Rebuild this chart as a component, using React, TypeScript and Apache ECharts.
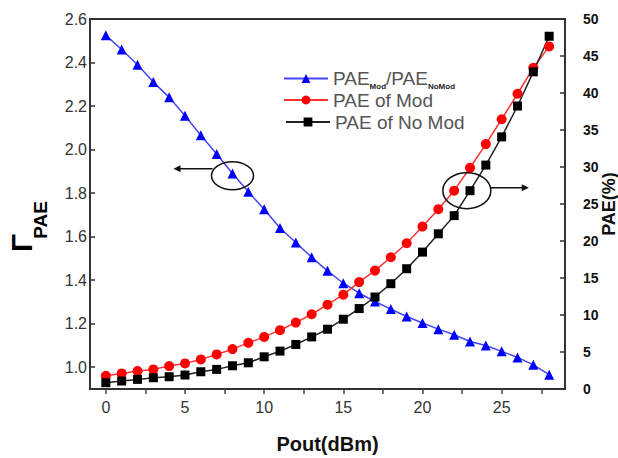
import React, { useEffect, useRef } from "react";
import * as echarts from "echarts";

const pout = [0, 1, 2, 3, 4, 5, 6, 7, 8, 9, 10, 11, 12, 13, 14, 15, 16, 17, 18, 19, 20, 21, 22, 23, 24, 25, 26, 27, 28];
const gammaPae = [2.525, 2.46, 2.39, 2.31, 2.24, 2.155, 2.066, 1.98, 1.89, 1.806, 1.726, 1.64, 1.573, 1.505, 1.443, 1.386, 1.34, 1.302, 1.267, 1.233, 1.203, 1.175, 1.149, 1.118, 1.1, 1.073, 1.045, 1.011, 0.966];
const paeMod = [1.79, 2.11, 2.42, 2.65, 3.1, 3.46, 4.0, 4.67, 5.39, 6.24, 7.04, 7.95, 8.98, 10.1, 11.4, 12.75, 14.45, 16.0, 17.8, 19.7, 21.95, 24.3, 26.8, 29.9, 33.1, 36.45, 39.9, 43.4, 46.3];
const paeNoMod = [0.85, 1.08, 1.3, 1.52, 1.66, 1.89, 2.33, 2.65, 3.14, 3.54, 4.35, 5.12, 6.02, 7.04, 8.08, 9.43, 10.87, 12.43, 14.23, 16.25, 18.5, 20.97, 23.43, 26.8, 30.26, 34.07, 38.24, 42.86, 47.67];

const xLabelValues = [0, 5, 10, 15, 20, 25];
const xTickValues = [0, 2.5, 5, 7.5, 10, 12.5, 15, 17.5, 20, 22.5, 25, 27.5];
const leftTickValues = [1.0, 1.2, 1.4, 1.6, 1.8, 2.0, 2.2, 2.4, 2.6];

const seriesNames = ["ratio", "PAE of Mod", "PAE of No Mod"];

export default function App() {
  const ref = useRef<HTMLDivElement>(null);
  useEffect(() => {
    if (!ref.current) return;
    const chart = echarts.init(ref.current, undefined, { renderer: "svg" });
    const font = "Liberation Sans, Arial, sans-serif";
    const legendBase = {
      orient: "vertical",
      left: 278,
      itemWidth: 44,
      itemHeight: 11,
      itemGap: 0,
      textStyle: { fontFamily: font, fontSize: 19, color: "#555", lineHeight: 22 },
    };
    chart.setOption({
      animation: false,
      backgroundColor: "#fff",
      textStyle: { fontFamily: font },
      grid: { left: 90, right: 53, top: 19, bottom: 69, show: true, borderColor: "#333", borderWidth: 2, outerBoundsMode: "none", containLabel: false },
      legend: [
        {
          ...legendBase,
          top: 62,
          data: [seriesNames[0]],
          formatter: () => "{a|PAE}{s|Mod}{a|/PAE}{s|NoMod}",
          textStyle: {
            fontFamily: font,
            color: "#555",
            rich: {
              a: { fontSize: 19, color: "#555", lineHeight: 22, verticalAlign: "middle", fontFamily: font },
              s: { fontSize: 8, fontWeight: "bold", color: "#222", lineHeight: 9, padding: [15, 0, 0, 0], verticalAlign: "middle", fontFamily: font },
            },
          },
        },
        { ...legendBase, top: 84, data: [seriesNames[1]] },
        { ...legendBase, top: 106, data: [seriesNames[2]], left: 280 },
      ],
      xAxis: {
        type: "value",
        min: -1,
        max: 29,
        name: "Pout(dBm)",
        nameLocation: "middle",
        nameGap: 45,
        nameTextStyle: { fontFamily: font, fontSize: 20, fontWeight: "bold", color: "#111" },
        axisLine: { onZero: false, lineStyle: { color: "#333", width: 2 } },
        axisTick: { customValues: xTickValues, inside: false, length: 5, lineStyle: { color: "#444", width: 1.5 } },
        axisLabel: { customValues: xLabelValues, fontSize: 16, color: "#333", margin: 10, fontFamily: font },
        splitLine: { show: false },
      },
      yAxis: [
        {
          type: "value",
          min: 0.9,
          max: 2.6,
          position: "left",
          axisLine: { show: true, onZero: false, lineStyle: { color: "#333", width: 2 } },
          axisTick: { customValues: leftTickValues, inside: true, length: 5, lineStyle: { color: "#333", width: 1.5 } },
          axisLabel: {
            customValues: leftTickValues,
            fontSize: 16,
            color: "#333",
            margin: 3,
            fontFamily: font,
            formatter: (v: number) => v.toFixed(1),
          },
          splitLine: { show: false },
        },
        {
          type: "value",
          min: 0,
          max: 50,
          interval: 5,
          position: "right",
          name: "PAE(%)",
          nameLocation: "middle",
          nameRotate: 90,
          nameGap: 35,
          nameMoveOverlap: false,
          nameTextStyle: { fontFamily: font, fontSize: 18, fontWeight: "bold", color: "#111" },
          axisLine: { show: true, onZero: false, lineStyle: { color: "#333", width: 2 } },
          axisTick: { inside: true, length: 5, lineStyle: { color: "#333", width: 1.5 } },
          axisLabel: { fontSize: 14, fontWeight: "bold", color: "#111", margin: 18, fontFamily: font },
          splitLine: { show: false },
        },
      ],
      series: [
        {
          name: seriesNames[0],
          type: "line",
          yAxisIndex: 0,
          data: pout.map((x, i) => [x, gammaPae[i]]),
          symbol: "triangle",
          symbolSize: 10,
          itemStyle: { color: "#0000ff" },
          lineStyle: { color: "#4444ff", width: 1.5 },
        },
        {
          name: seriesNames[1],
          type: "line",
          yAxisIndex: 1,
          data: pout.map((x, i) => [x, paeMod[i]]),
          symbol: "circle",
          symbolSize: 10,
          itemStyle: { color: "#ff0000" },
          lineStyle: { color: "#ff3333", width: 1.5 },
        },
        {
          name: seriesNames[2],
          type: "line",
          yAxisIndex: 1,
          data: pout.map((x, i) => [x, paeNoMod[i]]),
          symbol: "rect",
          symbolSize: 9,
          itemStyle: { color: "#000000" },
          lineStyle: { color: "#222222", width: 1.5 },
        },
      ],
    });

    const c1 = chart.convertToPixel({ xAxisIndex: 0, yAxisIndex: 0 }, [8, 1.88]) as number[];
    const c2 = chart.convertToPixel({ xAxisIndex: 0, yAxisIndex: 1 }, [22.8, 26.8]) as number[];
    const rx1 = 21, ry1 = 14, rx2 = 24, ry2 = 18;
    const a1y = c1[1] - 7;
    const a1x0 = c1[0] - rx1 - 38;
    const a2y = c2[1] - 3;
    const a2x1 = c2[0] + rx2 + 38;
    const stroke = { stroke: "#111", lineWidth: 1.5, fill: "none" };
    chart.setOption({
      graphic: [
        { type: "ellipse", shape: { cx: c1[0], cy: c1[1], rx: rx1, ry: ry1 }, style: stroke, z: 100 },
        { type: "line", shape: { x1: c1[0] - rx1 + 1, y1: a1y, x2: a1x0 + 4, y2: a1y }, style: { stroke: "#111", lineWidth: 1.5 }, z: 100 },
        { type: "polygon", shape: { points: [[a1x0, a1y], [a1x0 + 7, a1y - 3.5], [a1x0 + 7, a1y + 3.5]] }, style: { fill: "#111" }, z: 100 },
        { type: "ellipse", shape: { cx: c2[0], cy: c2[1], rx: rx2, ry: ry2 }, style: stroke, z: 100 },
        { type: "line", shape: { x1: c2[0] + rx2, y1: a2y, x2: a2x1 - 4, y2: a2y }, style: { stroke: "#111", lineWidth: 1.5 }, z: 100 },
        { type: "polygon", shape: { points: [[a2x1, a2y], [a2x1 - 7, a2y - 3.5], [a2x1 - 7, a2y + 3.5]] }, style: { fill: "#111" }, z: 100 },
        {
          type: "text",
          x: 21,
          y: 243,
          rotation: Math.PI / 2,
          style: { text: "Γ", font: `bold 30px ${font}`, fill: "#000", textAlign: "center", textVerticalAlign: "middle" },
        },
        {
          type: "text",
          x: 40,
          y: 220,
          rotation: Math.PI / 2,
          style: { text: "PAE", font: `bold 19px ${font}`, fill: "#000", textAlign: "center", textVerticalAlign: "middle" },
        },
      ],
    });
    return () => chart.dispose();
  }, []);
  return <div ref={ref} style={{ position: "fixed", left: 0, top: 0, width: 618, height: 458 }} />;
}
